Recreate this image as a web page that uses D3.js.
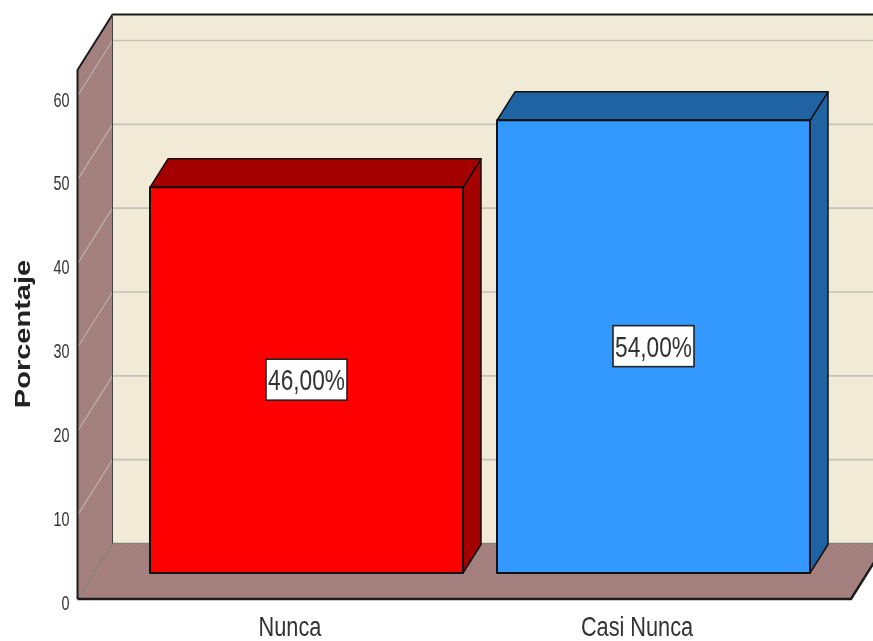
<!DOCTYPE html>
<html><head><meta charset="utf-8">
<style>html,body{margin:0;padding:0;background:#fff;overflow:hidden}svg{display:block}text{font-family:"Liberation Sans",Arial,sans-serif}</style>
<script src="https://cdn.jsdelivr.net/npm/d3@7/dist/d3.min.js"></script>
</head><body><div id="chart"></div>
<script>
const categories = ["Nunca", "Casi Nunca"];
const percentages = [46, 54];
const valueLabels = ["46,00%", "54,00%"];
const yTicks = [0, 10, 20, 30, 40, 50, 60];
const yTitle = "Porcentaje";
const barFront = ["#ff0000", "#3399ff"];
const barSide = ["#a50000", "#2063a3"];

const W = 873, H = 641;
const svg = d3.select("#chart").append("svg").attr("width", W).attr("height", H);
const defs = svg.append("defs");
function dots(id, bg, fg){
  const p = defs.append("pattern").attr("id", id).attr("width", 4).attr("height", 4).attr("patternUnits", "userSpaceOnUse");
  p.append("rect").attr("width", 4).attr("height", 4).attr("fill", bg);
  p.append("rect").attr("width", 1).attr("height", 1).attr("x", 1).attr("y", 1).attr("fill", fg);
  p.append("rect").attr("width", 1).attr("height", 1).attr("x", 3).attr("y", 3).attr("fill", fg);
}
dots("wall", "#f1ebd8", "#e9e3cf");
dots("side", "#a5817f", "#9a7776");
defs.append("filter").attr("id", "soft").append("feGaussianBlur").attr("stdDeviation", 0.35);

const y = d3.scaleLinear().domain([0, 60]).range([599, 96]);
const floorL = 77.5, floorR = 851;
const wallDx = 35, wallDy = -55.5;    // depth of the chart box
const barDx = 18, barDy = -28.5;      // depth of a bar
const baseOffset = y(0) - 573;        // bars stand forward on the floor
const topV = 63.1;                    // top of the chart box, in axis units

const x = d3.scaleBand().domain(categories).range([133, 827]).paddingInner(0.098).paddingOuter(0.049);
const line = d3.line();
const poly = (g, pts, fill, stroke, sw) => g.append("path").attr("d", line(pts) + "Z")
  .attr("fill", fill).attr("stroke", stroke || "none").attr("stroke-width", sw || 0).attr("stroke-linejoin", "round");

const box = svg.append("g");
const backL = floorL + wallDx, backR = W + 5, backFloor = y(0) + wallDy, backTop = y(topV) + wallDy;
poly(box, [[backL, backTop], [backR, backTop], [backR, backFloor], [backL, backFloor]], "url(#wall)");
poly(box, [[floorL, y(0)], [floorL, y(topV)], [backL, backTop], [backL, backFloor]], "url(#side)");
poly(box, [[floorL, y(0)], [backL, backFloor], [backR, backFloor], [floorR + wallDx, backFloor], [floorR, y(0)]], "url(#side)");

// grid lines
const grid = svg.append("g").attr("fill", "none");
grid.selectAll("path.back").data(yTicks.filter(d => d > 0)).join("path").attr("class", "back")
  .attr("stroke", "#c6c2b6").attr("stroke-width", 1.6)
  .attr("d", d => line([[backL, y(d) + wallDy], [backR, y(d) + wallDy]]));
grid.selectAll("path.side").data(yTicks.filter(d => d > 0)).join("path").attr("class", "side")
  .attr("stroke", "#b9aba8").attr("stroke-width", 1.4)
  .attr("d", d => line([[floorL, y(d)], [backL, y(d) + wallDy]]));
box.append("path").attr("d", line([[floorL, y(0)], [backL, backFloor], [backR, backFloor]]))
  .attr("fill", "none").attr("stroke", "#85827c").attr("stroke-width", 1.4);

// box outlines
const outline = svg.append("g").attr("fill", "none").attr("stroke", "#1c1c1c").attr("stroke-width", 2).attr("stroke-linejoin", "round");
outline.append("path").attr("d", line([[floorL, y(0)], [floorL, y(topV)], [backL, backTop], [backR, backTop]]));
outline.append("path").attr("d", line([[backL, backTop], [backL, backFloor]])).attr("stroke-width", 1).attr("stroke", "#444");
outline.append("path").attr("d", line([[floorL, y(0)], [floorR, y(0)], [floorR + wallDx, backFloor]])).attr("stroke-width", 2.4);

// bars
const bars = svg.append("g").selectAll("g").data(categories).join("g");
bars.each(function (c, i) {
  const g = d3.select(this);
  const x0 = x(c), x1 = x0 + x.bandwidth();
  const b = y(0) - baseOffset, t = y(percentages[i]) - baseOffset;
  poly(g, [[x1, b], [x1, t], [x1 + barDx, t + barDy], [x1 + barDx, b + barDy]], barSide[i], "#111", 1.5);
  poly(g, [[x0, t], [x0 + barDx, t + barDy], [x1 + barDx, t + barDy], [x1, t]], barSide[i], "#111", 1.5);
  poly(g, [[x0, t], [x1, t], [x1, b], [x0, b]], barFront[i], "#111", 2);
  const cx = (x0 + x1) / 2, cy = (t + b) / 2;
  g.append("rect").attr("x", cx - 40.5).attr("y", cy - 21).attr("width", 81).attr("height", 41)
    .attr("fill", "#fff").attr("stroke", "#222").attr("stroke-width", 1.6);
  g.append("text").attr("text-anchor", "middle").attr("font-size", 30).attr("fill", "#333")
    .attr("transform", `translate(${cx},${cy + 10}) scale(0.755,1)`).attr("filter", "url(#soft)").text(valueLabels[i]);
});

// y ticks
svg.append("g").selectAll("text").data(yTicks).join("text")
  .attr("text-anchor", "end").attr("font-size", 20).attr("fill", "#333").attr("filter", "url(#soft)")
  .attr("transform", d => `translate(69.5,${y(d) + 10.5}) scale(0.72,1)`).text(d => d);

// x labels
svg.append("g").selectAll("text").data(categories).join("text")
  .attr("text-anchor", "middle").attr("font-size", 27.5).attr("fill", "#333").attr("filter", "url(#soft)")
  .attr("transform", c => `translate(${x(c) + x.bandwidth() / 2 - 16.5},635.5) scale(0.79,1)`).text(c => c);

// y title
svg.append("text").attr("text-anchor", "middle").attr("font-size", 22).attr("font-weight", "bold").attr("fill", "#222")
  .attr("filter", "url(#soft)")
  .attr("transform", "translate(30,334) rotate(-90) scale(1.32,1)").text(yTitle);
</script></body></html>
